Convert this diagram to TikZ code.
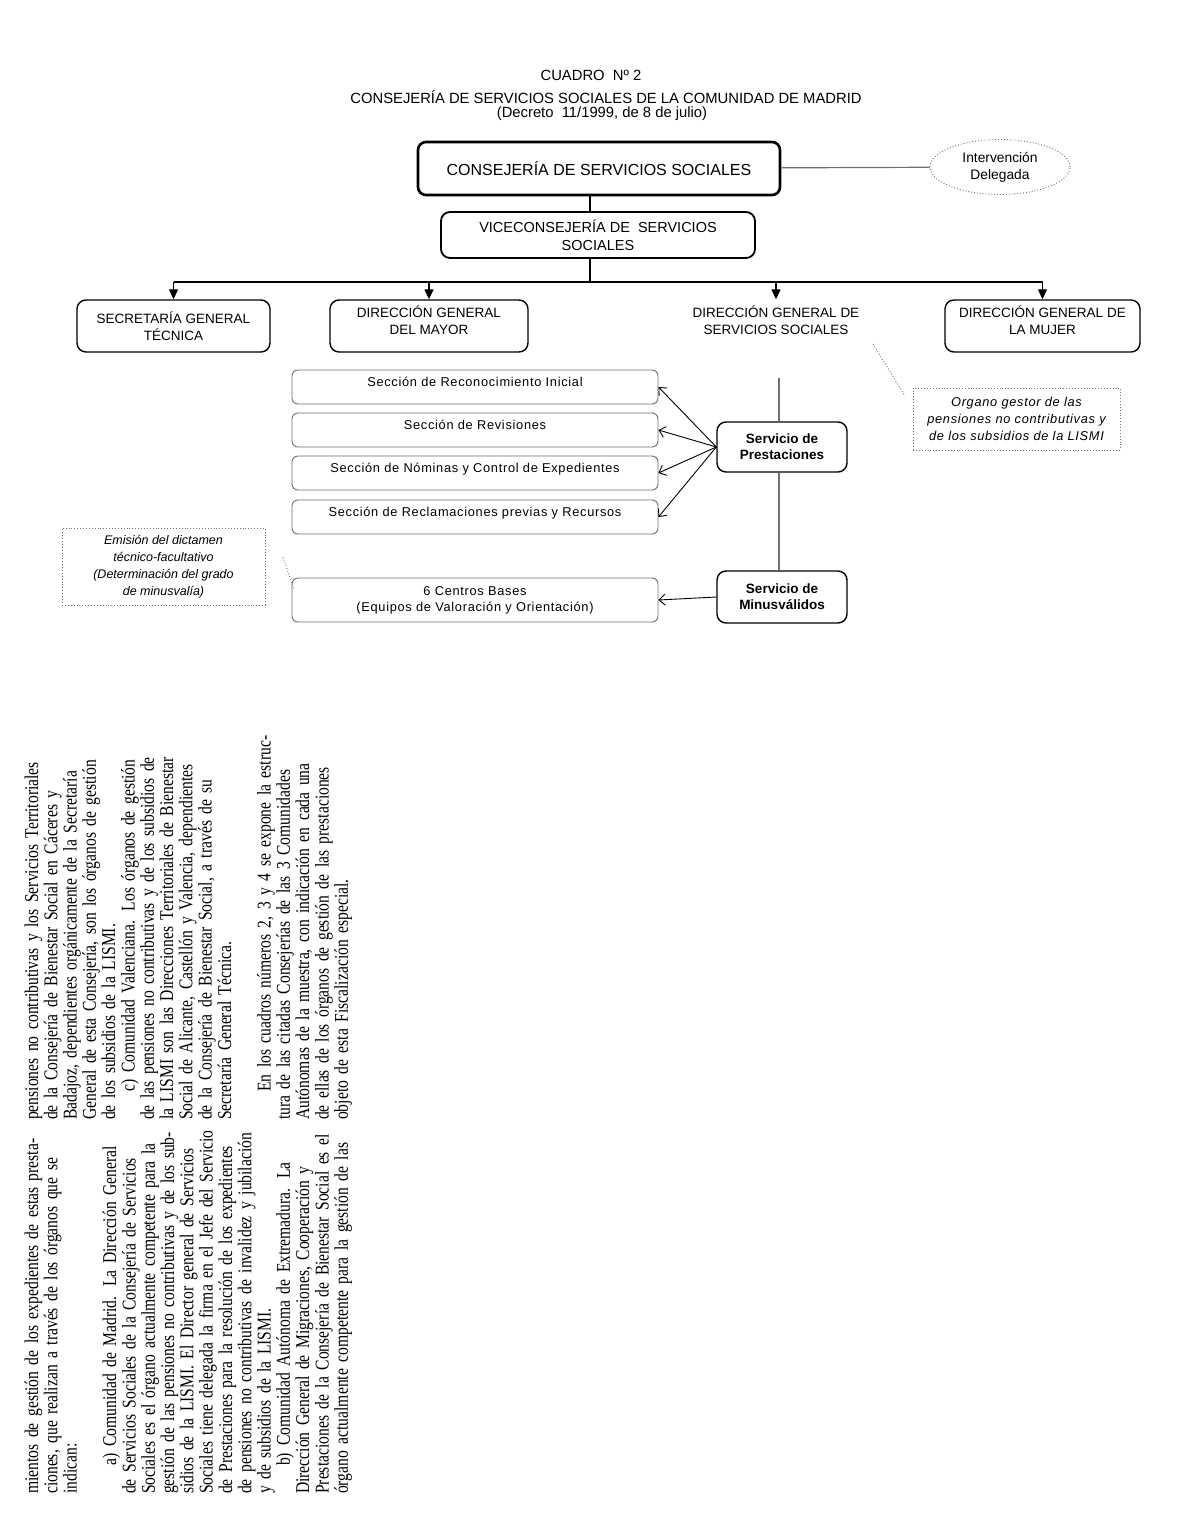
\documentclass[tikz,border=0pt]{standalone}
\usepackage{fontspec}
\setmainfont{Liberation Serif}
\setsansfont{Liberation Sans}
\newfontfamily\espaciada[LetterSpace=5.5]{Liberation Sans}
\newfontfamily\letra[FakeStretch=0.8]{Liberation Serif}
\usepackage{tikz}
\usetikzlibrary{shapes,arrows.meta}
\definecolor{gris}{HTML}{707070}
\newcommand{\renglon}[1]{\makebox[\hsize][s]{#1}\par}
\tikzset{titulo/.style={
    inner sep=0pt,
    font=\sffamily\fontsize{14.8}{17}\selectfont}}
\tikzset{consejeria/.style={
    draw=black,
    line width=2.6pt,
    rounded corners=8pt,
    minimum width=362pt,
    minimum height=53pt,
    font=\sffamily\fontsize{16}{19}\selectfont}}
\tikzset{organo/.style={
    draw=black,
    line width=1.4pt,
    rounded corners=9pt,
    align=center,
    minimum height=52pt,
    font=\sffamily\fontsize{13.5}{17}\selectfont}}
\tikzset{seccion/.style={
    draw=gris,
    line width=0.9pt,
    rounded corners=6pt,
    minimum width=366pt,
    minimum height=34pt,
    align=center,
    font=\espaciada\fontsize{12.8}{16}\selectfont}}
\tikzset{servicio/.style={
    draw=black,
    line width=1.4pt,
    rounded corners=9pt,
    minimum width=130pt,
    align=center,
    font=\sffamily\bfseries\fontsize{13.5}{16}\selectfont}}
\tikzset{nota/.style={
    draw=gris,
    dotted,
    line width=0.9pt,
    align=center}}
\tikzset{intervencion/.style={
    ellipse,
    draw=gris,
    dotted,
    line width=0.9pt,
    minimum width=140pt,
    minimum height=55pt,
    inner sep=0pt,
    align=center,
    font=\sffamily\fontsize{13.8}{17}\selectfont}}
\tikzset{rama/.style={
    draw=black,
    line width=1.3pt}}
\tikzset{bajada/.style={
    draw=black,
    line width=1.3pt,
    -{Triangle[length=10pt,width=9pt]}}}
\tikzset{lineagris/.style={
    draw=gris,
    line width=1.2pt}}
\tikzset{flecha/.style={
    draw=black,
    line width=0.9pt,
    -{Straight Barb[length=6pt,width=11pt]}}}
\tikzset{punteada/.style={
    draw=gris,
    dotted,
    line width=0.9pt}}
\tikzset{cuerpo/.style={
    rotate=90,
    anchor=base west,
    inner sep=0pt,
    text width=355pt,
    font=\letra\fontsize{19.5}{19.3}\selectfont}}

\begin{document}
\begin{tikzpicture}[x=1pt,y=-1pt]
\useasboundingbox (0,0) rectangle (1177,1513);
\fill[white] (0,0) rectangle (1177,1513);

\node[titulo] (cuadro) at (591,75) {CUADRO\ \ Nº 2};
\node[titulo] (nombre) at (606,97) {CONSEJERÍA DE SERVICIOS SOCIALES DE LA COMUNIDAD DE MADRID};
\node[titulo] (decreto) at (602,114) {(Decreto\ \ 11/1999, de 8 de julio)};

\node[consejeria] (consejeria) at (599,168.5) {CONSEJERÍA DE SERVICIOS SOCIALES};
\node[intervencion] (interv) at (1000,167) {Intervención\\Delegada};
\node[organo, minimum width=314pt, minimum height=46pt, line width=1.8pt,
      font=\sffamily\fontsize{14.5}{18}\selectfont] (vice) at (598,235)
      {VICECONSEJERÍA DE\ \ SERVICIOS\\SOCIALES};

\node[organo, minimum width=193pt] (secretaria) at (173.5,326) {SECRETARÍA GENERAL\\TÉCNICA};
\node[organo, minimum width=198pt, text depth=12pt] (mayor) at (429,326) {DIRECCIÓN GENERAL\\DEL MAYOR};
\node[organo, draw=none, minimum width=198pt, text depth=12pt] (dgss) at (776,326) {DIRECCIÓN GENERAL DE\\SERVICIOS SOCIALES};
\node[organo, minimum width=195pt, text depth=12pt] (mujer) at (1042.5,326) {DIRECCIÓN GENERAL DE\\LA MUJER};

\coordinate (nudo) at (590,282);
\path[lineagris] (consejeria) -- (interv);
\path[rama] (consejeria.south -| nudo) -- (vice.north -| nudo);
\path[rama] (vice.south -| nudo) -- (nudo);
\path[rama] (secretaria.north |- nudo) -- (mujer.north |- nudo);
\path[bajada] (secretaria.north |- nudo) -- (secretaria.north);
\path[bajada] (mayor.north |- nudo) -- (mayor.north);
\path[bajada] (dgss.north |- nudo) -- (dgss.north);
\path[bajada] (mujer.north |- nudo) -- (mujer.north);

\node[seccion, text height=9pt, text depth=10pt] (reconocimiento) at (475,387) {Sección de Reconocimiento Inicial};
\node[seccion, text height=9pt, text depth=10pt] (revisiones) at (475,430) {Sección de Revisiones};
\node[seccion, text height=9pt, text depth=10pt] (nominas) at (475,473) {Sección de Nóminas y Control de Expedientes};
\node[seccion, text height=9pt, text depth=10pt] (reclamaciones) at (475,517) {Sección de Reclamaciones previas y Recursos};
\node[seccion, minimum height=44pt] (centros) at (475,600) {6 Centros Bases\\(Equipos de Valoración y Orientación)};

\node[servicio, minimum height=50pt] (prestaciones) at (782,447) {Servicio de\\Prestaciones};
\node[servicio, minimum height=52pt] (minusvalidos) at (782,597) {Servicio de\\Minusválidos};

\coordinate (eje) at (779,378);
\path[lineagris] (eje) -- (eje |- prestaciones.north);
\path[lineagris] (prestaciones.south -| eje) -- (minusvalidos.north -| eje);

\path[flecha] (prestaciones.west) -- (reconocimiento.east);
\path[flecha] (prestaciones.west) -- (revisiones.east);
\path[flecha] (prestaciones.west) -- (nominas.east);
\path[flecha] (prestaciones.west) -- (reclamaciones.east);
\path[flecha] (minusvalidos.west) -- (centros.east);

\node[nota, minimum width=207pt, minimum height=62pt,
      font=\espaciada\itshape\fontsize{12.8}{17}\selectfont] (gestor) at (1016.5,419)
      {Organo gestor de las\\pensiones no contributivas y\\de los subsidios de la LISMI};
\node[nota, minimum width=203pt, minimum height=77pt,
      font=\sffamily\itshape\fontsize{12.5}{17}\selectfont] (dictamen) at (163.5,566.5)
      {Emisión del dictamen\\técnico-facultativo\\(Determinación del grado\\de minusvalía)};
\coordinate (g1) at (873,344);
\coordinate (g2) at (905,396);
\coordinate (d1) at (283,557);
\coordinate (d2) at (294,590);
\path[punteada] (g1) -- (g2);
\path[punteada] (d1) -- (d2);

\node[cuerpo] (columna1) at (38,1494) {%
\renglon{mientos de gestión de los expedientes de estas presta-}
\renglon{ciones, que realizan a través de los órganos que se}
indican:\par
\strut\par
\renglon{\hspace*{28pt}a)\hspace{7pt}Comunidad de Madrid. La Dirección General}
\renglon{de Servicios Sociales de la Consejería de Servicios}
\renglon{Sociales es el órgano actualmente competente para la}
\renglon{gestión de las pensiones no contributivas y de los sub-}
\renglon{sidios de la LISMI. El Director general de Servicios}
\renglon{Sociales tiene delegada la firma en el Jefe del Servicio}
\renglon{de Prestaciones para la resolución de los expedientes}
\renglon{de pensiones no contributivas de invalidez y jubilación}
y de subsidios de la LISMI.\par
\renglon{\hspace*{28pt}b)\hspace{7pt}Comunidad Autónoma de Extremadura. La}
\renglon{Dirección General de Migraciones, Cooperación y}
\renglon{Prestaciones de la Consejería de Bienestar Social es el}
\renglon{órgano actualmente competente para la gestión de las}};

\node[cuerpo] (columna2) at (38,1120) {%
\renglon{pensiones no contributivas y los Servicios Territoriales}
\renglon{de la Consejería de Bienestar Social en Cáceres y}
\renglon{Badajoz, dependientes orgánicamente de la Secretaría}
\renglon{General de esta Consejería, son los órganos de gestión}
de los subsidios de la LISMI.\par
\renglon{\hspace*{28pt}c)\hspace{7pt}Comunidad Valenciana. Los órganos de gestión}
\renglon{de las pensiones no contributivas y de los subsidios de}
\renglon{la LISMI son las Direcciones Territoriales de Bienestar}
\renglon{Social de Alicante, Castellón y Valencia, dependientes}
\renglon{de la Consejería de Bienestar Social, a través de su}
Secretaría General Técnica.\par
\strut\par
\renglon{\hspace*{28pt}En los cuadros números 2, 3 y 4 se expone la estruc-}
\renglon{tura de las citadas Consejerías de las 3 Comunidades}
\renglon{Autónomas de la muestra, con indicación en cada una}
\renglon{de ellas de los órganos de gestión de las prestaciones}
objeto de esta Fiscalización especial.\par};
\end{tikzpicture}
\end{document}
